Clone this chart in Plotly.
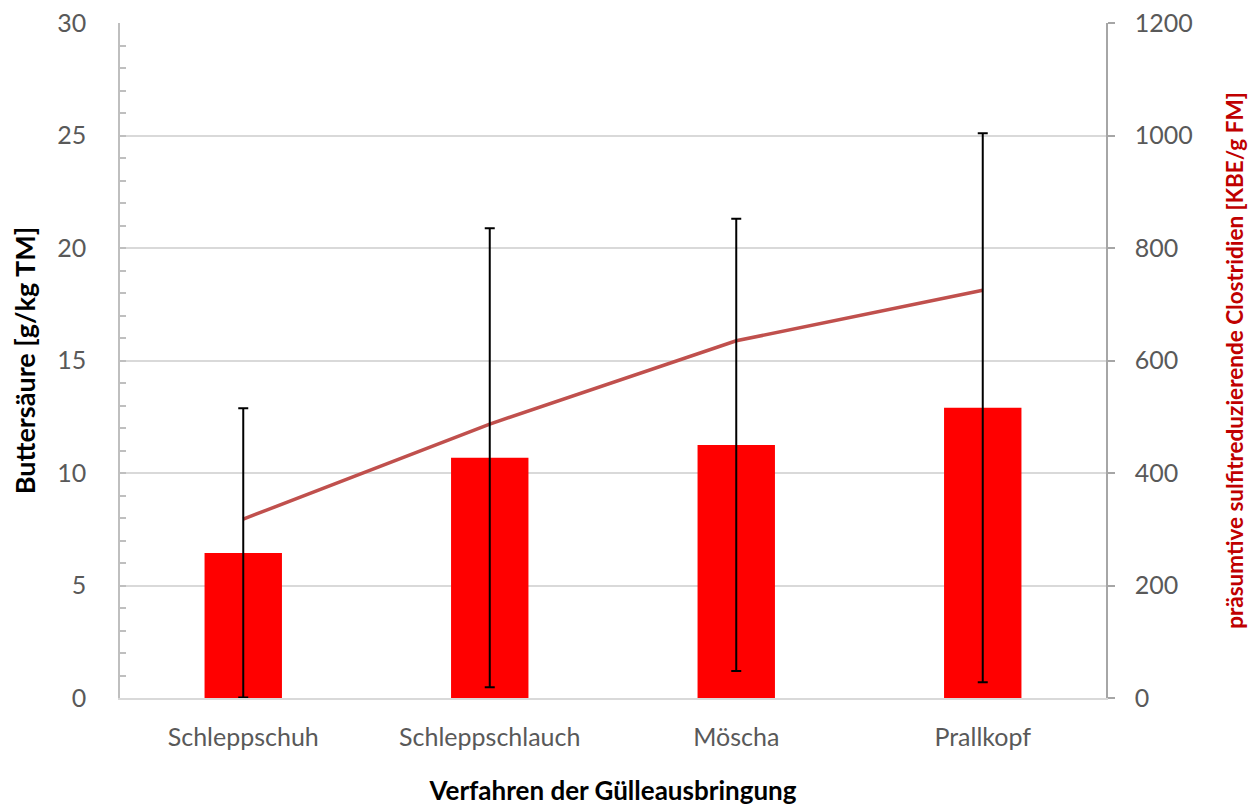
import plotly.graph_objects as go

# Data
verfahren = ["Schleppschuh", "Schleppschlauch", "Möscha", "Prallkopf"]
buttersaeure = [6.45, 10.68, 11.25, 12.9]          # g/kg TM
buttersaeure_sd = [6.43, 10.2, 10.05, 12.2]
clostridien = [318, 487, 635, 725]                  # KBE/g FM

left_ticks = [0, 5, 10, 15, 20, 25, 30]
right_ticks = [0, 200, 400, 600, 800, 1000, 1200]

FONT = "Lato"
GRAY_TXT = "#595959"
TICK_SIZE = 25

fig = go.Figure()

# Clostridia line (base y axis, drawn beneath the bars/error bars)
fig.add_trace(go.Scatter(
    x=verfahren, y=clostridien, yaxis="y",
    mode="lines",
    line=dict(color="rgb(192,80,77)", width=3.5),
    showlegend=False, hoverinfo="skip",
))

# Butyric acid bars with error bars
fig.add_trace(go.Bar(
    x=verfahren, y=buttersaeure, yaxis="y2",
    marker=dict(color="#FF0000", line=dict(width=0)),
    width=0.314,
    error_y=dict(type="data", array=buttersaeure_sd, visible=True,
                 color="black", thickness=2, width=5),
    showlegend=False,
))

fig.update_layout(
    width=1248, height=806,
    margin=dict(l=120, r=142, t=23, b=108, autoexpand=False),
    paper_bgcolor="white", plot_bgcolor="white",
    font=dict(family=FONT, size=TICK_SIZE, color=GRAY_TXT),
    xaxis=dict(
        type="category", automargin=False,
        showline=True, linecolor="#d9d9d9", linewidth=1.5,
        ticks="", tickfont=dict(size=TICK_SIZE, color=GRAY_TXT),
        ticklabelstandoff=16,
        title=dict(text="<b>Verfahren der Gülleausbringung</b>",
                   font=dict(size=26, color="black"), standoff=40),
    ),
    yaxis=dict(
        side="right", range=[0, 1200], automargin=False,
        tickvals=right_ticks, ticktext=[str(v) for v in right_ticks],
        showgrid=True, gridcolor="#d9d9d9", gridwidth=1.5,
        showline=True, linecolor="#a6a6a6", linewidth=1.5,
        ticks="outside", ticklen=7, tickcolor="#a6a6a6", tickwidth=1.5,
        tickfont=dict(size=TICK_SIZE, color=GRAY_TXT),
        ticklabelstandoff=15,
        zeroline=False,
        title=dict(text="<b>präsumtive sulfitreduzierende Clostridien [KBE/g FM]</b>",
                   font=dict(size=22.5, color="#C00000"), standoff=40),
    ),
    yaxis2=dict(
        overlaying="y", side="left", range=[0, 30], automargin=False,
        tickvals=left_ticks, ticktext=[str(v) for v in left_ticks],
        showgrid=False, zeroline=False,
        showline=True, linecolor="#bfbfbf", linewidth=1.5,
        ticks="inside", ticklen=6, tickcolor="#bfbfbf", tickwidth=1.5,
        minor=dict(dtick=1, ticks="inside", ticklen=6,
                   tickcolor="#bfbfbf", tickwidth=1.5, showgrid=False),
        tickfont=dict(size=TICK_SIZE, color=GRAY_TXT),
        ticklabelstandoff=27,
        title=dict(text="<b>Buttersäure [g/kg TM]</b>",
                   font=dict(size=27, color="black"), standoff=14),
    ),
)

fig.write_html("out.html")
